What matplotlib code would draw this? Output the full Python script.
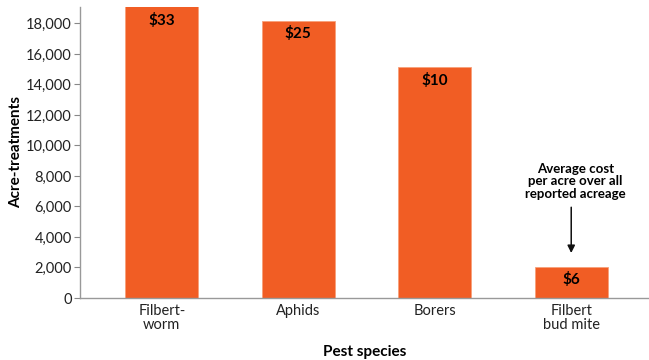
import matplotlib
matplotlib.use("Agg")
import matplotlib.pyplot as plt
from matplotlib.ticker import FuncFormatter

categories = ["Filbert-\nworm", "Aphids", "Borers", "Filbert\nbud mite"]
acre_treatments = [19500, 18180, 15130, 2050]
cost_labels = ["$33", "$25", "$10", "$6"]
yticks = [0, 2000, 4000, 6000, 8000, 10000, 12000, 14000, 16000, 18000]

plt.rcParams['font.family'] = ['Lato', 'DejaVu Sans']

fig = plt.figure(figsize=(6.49, 3.6), dpi=100)
ax = fig.add_axes([80/649, 62/360, 569/649, 291/360])

bar_color = '#F15D24'
x = list(range(len(categories)))
bars = ax.bar(x, acre_treatments, width=0.535, color=bar_color,
              edgecolor='#F7A07A', linewidth=0.6, zorder=2)

ax.set_ylim(0, 19080)
ax.set_xlim(-0.6, 3.57)

for xi, v, lab in zip(x, acre_treatments, cost_labels):
    top = min(v, 19080)
    ax.annotate(lab, xy=(xi, top), xytext=(0, -4), textcoords='offset points',
                ha='center', va='top', fontsize=11, fontweight='bold', color='black',
                zorder=3)

ax.set_yticks(yticks)
ax.yaxis.set_major_formatter(FuncFormatter(lambda v, p: f"{int(v):,}"))
ax.set_xticks(x)
ax.set_xticklabels(categories, fontsize=10.5, color='#222222', linespacing=1.0)
ax.tick_params(axis='y', labelsize=10.5, colors='#222222', length=4, width=0.8,
               color='#888888', pad=2)
ax.tick_params(axis='x', length=0, pad=4)

for s in ['top', 'right']:
    ax.spines[s].set_visible(False)
for s in ['left', 'bottom']:
    ax.spines[s].set_color('#999999')
    ax.spines[s].set_linewidth(1.0)

ax.set_ylabel("Acre-treatments", fontsize=11, fontweight='bold', labelpad=2)
ax.set_xlabel("Pest species", fontsize=11, fontweight='bold', labelpad=10)

ax.text(3.03, 6450, "Average cost\nper acre over all\nreported acreage",
        ha='center', va='bottom', fontsize=9.5, fontweight='bold',
        linespacing=1.05)
ax.annotate("", xy=(3.0, 2950), xytext=(3.0, 5950),
            arrowprops=dict(arrowstyle='-|>', color='#111111', lw=1.1,
                            shrinkA=0, shrinkB=0, mutation_scale=11))

fig.savefig("out.png", dpi=100)
